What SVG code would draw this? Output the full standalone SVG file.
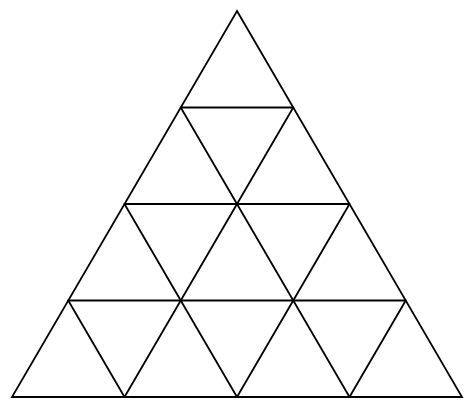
<svg xmlns="http://www.w3.org/2000/svg" width="474" height="409" viewBox="0 0 474 409">
<style>
line, polygon { stroke: #000; stroke-width: 1.8; fill: none; stroke-linecap: round; }
</style>
<rect width="474" height="409" fill="#fff"/>
<g id="outer">
<polygon points="237,11 462,397 12,397" stroke-linejoin="miter"/>
</g>
<g id="grid">
<line x1="180.75" y1="107.5" x2="293.25" y2="107.5"/>
<line x1="124.5" y1="204" x2="349.5" y2="204"/>
<line x1="68.25" y1="300.5" x2="405.75" y2="300.5"/>
<line x1="124.5" y1="397" x2="293.25" y2="107.5"/>
<line x1="237" y1="397" x2="349.5" y2="204"/>
<line x1="349.5" y1="397" x2="405.75" y2="300.5"/>
<line x1="349.5" y1="397" x2="180.75" y2="107.5"/>
<line x1="237" y1="397" x2="124.5" y2="204"/>
<line x1="124.5" y1="397" x2="68.25" y2="300.5"/>
</g>
</svg>
